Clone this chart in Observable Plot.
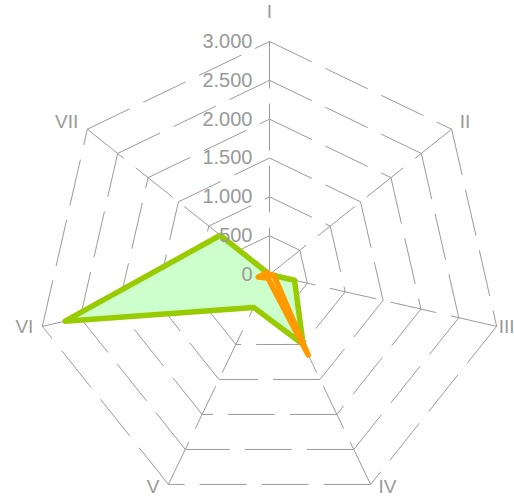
<!DOCTYPE html>
<html><head><meta charset="utf-8">
<script src="https://cdn.jsdelivr.net/npm/d3@7"></script>
<script src="https://cdn.jsdelivr.net/npm/@observablehq/plot@0.6"></script>
<style>body{margin:0;background:#fff}</style></head>
<body><div id="chart"></div>
<script>
const axes = ["I","II","III","IV","V","VI","VII"];
const seriesGreen = [0, 0, 330, 1000, 470, 2700, 810];
const seriesOrange = [0, 0, 60, 1150, 50, 150, 40];
const ringValues = [500, 1000, 1500, 2000, 2500, 3000];
const tickValues = [0, 500, 1000, 1500, 2000, 2500, 3000];
const tickLabels = ["0", "500", "1.000", "1.500", "2.000", "2.500", "3.000"];
const maxValue = 3000;

const n = axes.length;
const R = 233, cx = 269, cy = 274;
const k = maxValue / R; // data units per pixel
const ang = i => i * 2 * Math.PI / n;
const px = (v, i) => v * Math.sin(ang(i));
const py = (v, i) => v * Math.cos(ang(i));

const edges = ringValues.flatMap(r => axes.map((_, i) => ({
  x1: px(r, i), y1: py(r, i), x2: px(r, (i + 1) % n), y2: py(r, (i + 1) % n)
})));
const spokes = axes.map((_, i) => ({x1: 0, y1: 0, x2: px(maxValue, i), y2: py(maxValue, i)}));
const poly = vals => vals.map((v, i) => ({x: px(v, i), y: py(v, i)}));
const labels = axes.map((a, i) => {
  const s = Math.sin(ang(i)), c = Math.cos(ang(i));
  const dyPx = i === 0 ? -30 : (c > 0 ? -11 * c : (c < -0.5 ? 2 : -4.5 * c));
  // keep the rightmost label inside the page
  const dxPx = (s > 0.9) ? -6 : 0;
  return {label: a, x: px(maxValue, i) + dxPx * k, y: py(maxValue, i) - dyPx * k, side: Math.abs(s) < 0.01 ? "mid" : (s > 0 ? "right" : "left")};
});
const ticks = tickValues.map((v, i) => ({x: 0, y: v, label: tickLabels[i]}));

const gridStyle = {stroke: "#9a9a9a", strokeWidth: 1, strokeDasharray: "47,15"};
const font = "Liberation Sans, Arial, sans-serif";
const textStyle = {fill: "#999", fontSize: 19, fontFamily: font};

const chart = Plot.plot({
  width: 514, height: 497,
  x: {domain: [-maxValue, maxValue], range: [cx - R, cx + R], axis: null},
  y: {domain: [-maxValue, maxValue], range: [cy + R, cy - R], axis: null},
  style: {background: "#fff", overflow: "visible"},
  marks: [
    Plot.link(edges, {x1: "x1", y1: "y1", x2: "x2", y2: "y2", ...gridStyle}),
    Plot.link(spokes, {x1: "x1", y1: "y1", x2: "x2", y2: "y2", ...gridStyle}),
    Plot.line(poly(seriesGreen), {x: "x", y: "y", curve: "linear-closed", fill: "#ccffcc", stroke: "#99cc00", strokeWidth: 5.5, strokeLinejoin: "round"}),
    Plot.line(poly(seriesOrange), {x: "x", y: "y", curve: "linear-closed", fill: "#ffcc80", stroke: "#ff9900", strokeWidth: 5.5, strokeLinejoin: "round"}),
    Plot.text(ticks, {x: "x", y: "y", text: "label", textAnchor: "end", dx: -17, fill: "#999", fontSize: 20, fontFamily: font}),
    Plot.text(labels.filter(d => d.side === "mid"), {x: "x", y: "y", text: "label", textAnchor: "middle", ...textStyle}),
    Plot.text(labels.filter(d => d.side === "right"), {x: "x", y: "y", text: "label", textAnchor: "start", dx: 8, ...textStyle}),
    Plot.text(labels.filter(d => d.side === "left"), {x: "x", y: "y", text: "label", textAnchor: "end", dx: -9, ...textStyle})
  ]
});
document.getElementById("chart").append(chart);
</script>
</body></html>
